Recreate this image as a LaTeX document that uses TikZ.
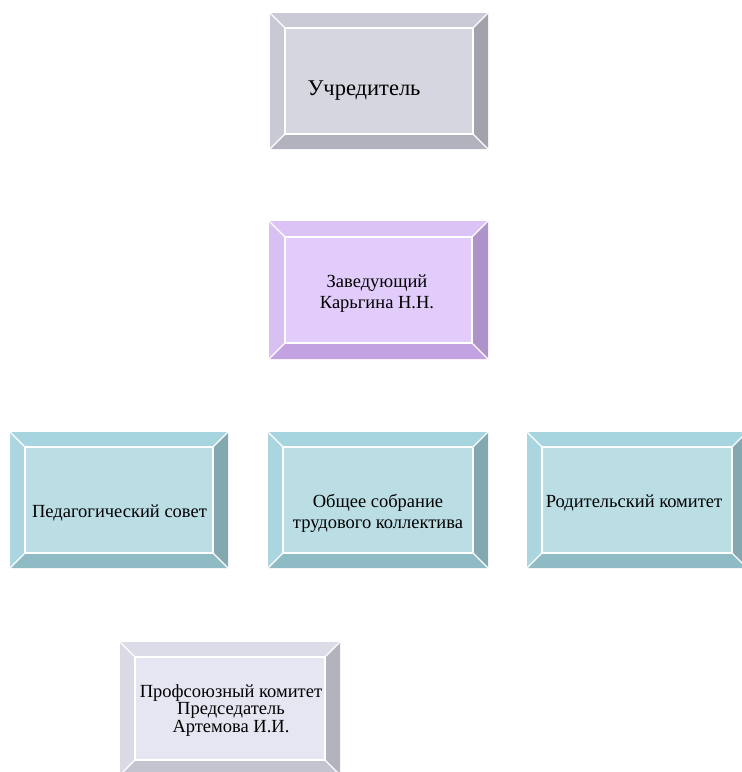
\documentclass[tikz,border=0pt]{standalone}
\usepackage{fontspec}
\setmainfont{Liberation Serif}
\definecolor{gT}{HTML}{CACAD6}\definecolor{gL}{HTML}{C9C9D5}\definecolor{gF}{HTML}{D6D6E0}\definecolor{gR}{HTML}{A2A2AD}\definecolor{gB}{HTML}{B2B2BE}
\definecolor{vT}{HTML}{DCC3F5}\definecolor{vL}{HTML}{D9C0F2}\definecolor{vF}{HTML}{E2CCFB}\definecolor{vR}{HTML}{AE93CA}\definecolor{vB}{HTML}{C2A2E0}
\definecolor{tT}{HTML}{A6D4DF}\definecolor{tL}{HTML}{ABD6E0}\definecolor{tF}{HTML}{BBDEE5}\definecolor{tR}{HTML}{84A8B0}\definecolor{tB}{HTML}{8FBBC4}
\definecolor{pT}{HTML}{DCDCE8}\definecolor{pL}{HTML}{DADAE6}\definecolor{pF}{HTML}{E6E6F2}\definecolor{pR}{HTML}{B3B3BE}\definecolor{pB}{HTML}{C4C4D0}
% #1 x1, #2 y1 (top, px down), #3 x2, #4 y2 (bottom), #5 bevel, #6 colour prefix
\newcommand\bevbox[6]{%
  \fill[#6T] (#1,-#2) -- (#3,-#2) -- (#3-#5,-#2-#5) -- (#1+#5,-#2-#5) -- cycle;
  \fill[#6L] (#1,-#2) -- (#1+#5,-#2-#5) -- (#1+#5,-#4+#5) -- (#1,-#4) -- cycle;
  \fill[#6R] (#3,-#2) -- (#3,-#4) -- (#3-#5,-#4+#5) -- (#3-#5,-#2-#5) -- cycle;
  \fill[#6B] (#1,-#4) -- (#3,-#4) -- (#3-#5,-#4+#5) -- (#1+#5,-#4+#5) -- cycle;
  \fill[#6F] (#1+#5,-#2-#5) rectangle (#3-#5,-#4+#5);
  \draw[facetline] (#1+#5,-#2-#5) rectangle (#3-#5,-#4+#5);
  \draw[facetline] (#1,-#2) -- (#1+#5,-#2-#5) (#3,-#2) -- (#3-#5,-#2-#5)
     (#1,-#4) -- (#1+#5,-#4+#5) (#3,-#4) -- (#3-#5,-#4+#5);
}
\tikzset{
  facetline/.style={white, line width=1.3pt},
  lbl/.style={inner sep=0pt, anchor=base, align=center, text=black,
     font=\fontsize{18.5}{21}\selectfont},
}
\begin{document}
\begin{tikzpicture}[x=1pt,y=1pt]
\useasboundingbox (0,0) rectangle (742,-772);
\clip (0,0) rectangle (742,-772);
\bevbox{270}{13}{488}{149}{15}{g}
\bevbox{269}{221}{488}{359}{16}{v}
\bevbox{10}{432}{228}{568}{15}{t}
\bevbox{268}{432}{488}{568}{15}{t}
\bevbox{527}{432}{747}{568}{15}{t}
\bevbox{120}{642}{340}{775}{15}{p}
\node[lbl, font=\fontsize{22.5}{26}\selectfont] (uch) at (364,-95) {Учредитель};
\node[lbl] (zav) at (377,-308) {Заведующий\\Карьгина Н.Н.};
\node[lbl] (ped) at (119.5,-517) {Педагогический совет};
\node[lbl] (obs) at (378,-528) {Общее собрание\\трудового коллектива};
\node[lbl] (rod) at (634,-507) {Родительский комитет};
\node[lbl, font=\fontsize{18.5}{17.5}\selectfont] (prof) at (231,-732) {Профсоюзный комитет\\Председатель\\Артемова И.И.};
\end{tikzpicture}
\end{document}
